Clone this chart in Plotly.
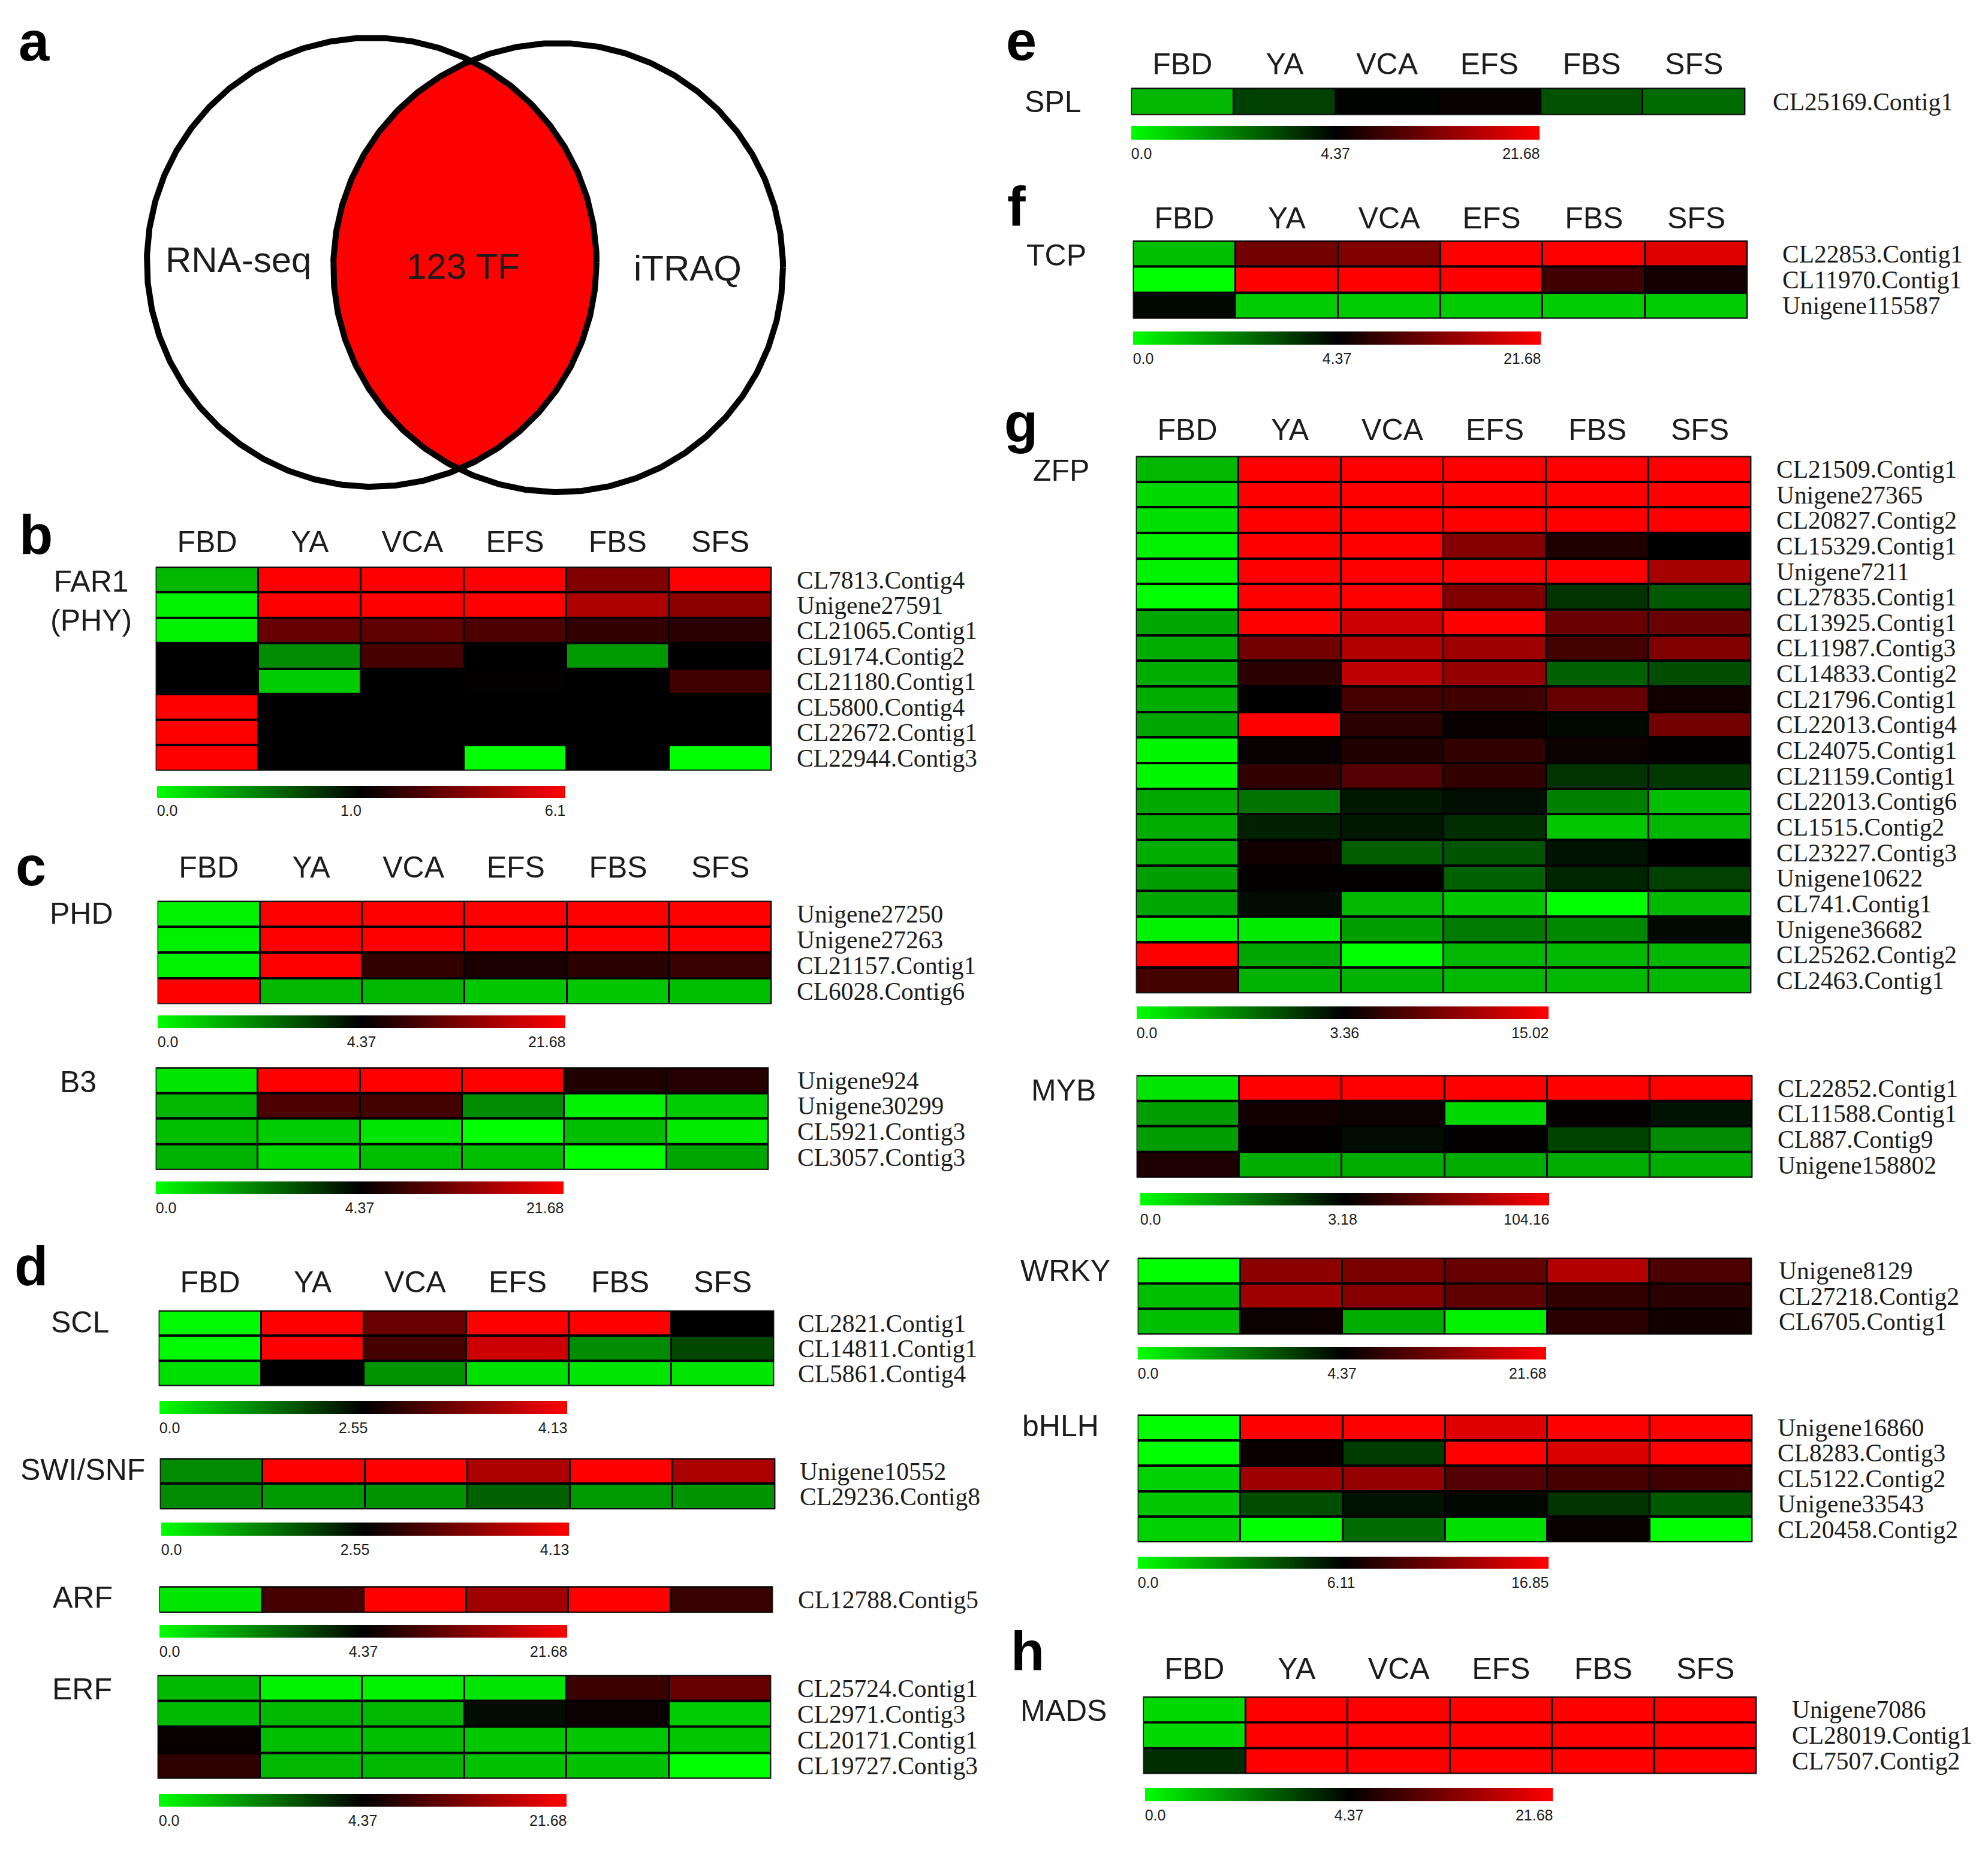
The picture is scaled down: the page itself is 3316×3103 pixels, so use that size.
import numpy as np
import plotly.graph_objects as go

W = 3316
H = 3103

stages = ["FBD", "YA", "VCA", "EFS", "FBS", "SFS"]

# -1 = full green, 0 = black, 1 = full red
far1_genes = ["CL7813.Contig4", "Unigene27591", "CL21065.Contig1", "CL9174.Contig2",
              "CL21180.Contig1", "CL5800.Contig4", "CL22672.Contig1", "CL22944.Contig3"]
far1_values = [[-.72, 1, 1, 1, .5, 1],
               [-.95, 1, 1, 1, .68, .55],
               [-.95, .4, .38, .3, .2, .17],
               [0, -.55, .28, 0, -.6, 0],
               [0, -.8, 0, .01, 0, .25],
               [1, 0, 0, 0, 0, 0],
               [1, 0, 0, 0, 0, 0],
               [1, 0, 0, -1, 0, -1]]

phd_genes = ["Unigene27250", "Unigene27263", "CL21157.Contig1", "CL6028.Contig6"]
phd_values = [[-.95, 1, 1, 1, 1, 1],
              [-.95, 1, 1, 1, 1, 1],
              [-.95, 1, .2, .1, .17, .22],
              [1, -.72, -.72, -.78, -.78, -.75]]

b3_genes = ["Unigene924", "Unigene30299", "CL5921.Contig3", "CL3057.Contig3"]
b3_values = [[-.9, 1, 1, 1, .13, .15],
             [-.72, .3, .27, -.55, -.95, -.8],
             [-.75, -.8, -.9, -1, -.75, -.92],
             [-.7, -.85, -.75, -.75, -1, -.65]]

scl_genes = ["CL2821.Contig1", "CL14811.Contig1", "CL5861.Contig4"]
scl_values = [[-.98, 1, .42, 1, 1, 0],
              [-.98, 1, .28, .8, -.55, -.28],
              [-.88, 0, -.58, -.88, -.9, -.9]]

swi_genes = ["Unigene10552", "CL29236.Contig8"]
swi_values = [[-.55, 1, 1, .68, 1, .67],
              [-.55, -.6, -.58, -.38, -.6, -.58]]

arf_genes = ["CL12788.Contig5"]
arf_values = [[-.9, .28, 1, .63, 1, .22]]

erf_genes = ["CL25724.Contig1", "CL2971.Contig3", "CL20171.Contig1", "CL19727.Contig3"]
erf_values = [[-.73, -.95, -.95, -.9, .23, .4],
              [-.73, -.72, -.72, -.05, .05, -.8],
              [.03, -.75, -.75, -.78, -.78, -.78],
              [.18, -.72, -.72, -.76, -.76, -1]]

spl_genes = ["CL25169.Contig1"]
spl_values = [[-.72, -.25, -.01, .03, -.32, -.42]]

tcp_genes = ["CL22853.Contig1", "CL11970.Contig1", "Unigene115587"]
tcp_values = [[-.75, .45, .5, 1, 1, .88],
              [-1, 1, 1, 1, .25, .08],
              [-.03, -.8, -.8, -.8, -.8, -.8]]

zfp_genes = ["CL21509.Contig1", "Unigene27365", "CL20827.Contig2", "CL15329.Contig1",
             "Unigene7211", "CL27835.Contig1", "CL13925.Contig1", "CL11987.Contig3",
             "CL14833.Contig2", "CL21796.Contig1", "CL22013.Contig4", "CL24075.Contig1",
             "CL21159.Contig1", "CL22013.Contig6", "CL1515.Contig2", "CL23227.Contig3",
             "Unigene10622", "CL741.Contig1", "Unigene36682", "CL25262.Contig2", "CL2463.Contig1"]
zfp_values = [[-.72, 1, 1, 1, 1, 1],
              [-.85, 1, 1, 1, 1, 1],
              [-.88, 1, 1, 1, 1, 1],
              [-.95, 1, 1, .52, .13, 0],
              [-.95, 1, 1, 1, 1, .65],
              [-1, 1, 1, .5, -.2, -.35],
              [-.65, 1, .8, 1, .42, .42],
              [-.68, .45, .7, .62, .27, .5],
              [-.68, .17, .75, .58, -.38, -.3],
              [-.68, 0, .28, .25, .4, .07],
              [-.65, 1, .17, .04, -.03, .45],
              [-.97, .03, .13, .2, .05, .02],
              [-.97, .2, .33, .2, -.2, -.22],
              [-.66, -.45, -.1, -.06, -.5, -.75],
              [-.68, -.13, -.1, -.18, -.78, -.72],
              [-.68, .07, -.37, -.33, -.07, 0],
              [-.62, .02, .01, -.38, -.15, -.25],
              [-.65, -.05, -.72, -.78, -1, -.72],
              [-.95, -.92, -.62, -.48, -.53, -.04],
              [1, -.65, -1, -.72, -.72, -.72],
              [.27, -.7, -.7, -.72, -.72, -.72]]

myb_genes = ["CL22852.Contig1", "CL11588.Contig1", "CL887.Contig9", "Unigene158802"]
myb_values = [[-.9, 1, 1, 1, 1, 1],
              [-.62, .07, .05, -.85, .01, -.07],
              [-.62, .01, -.05, .01, -.26, -.55],
              [.12, -.68, -.68, -.68, -.68, -.68]]

wrky_genes = ["Unigene8129", "CL27218.Contig2", "CL6705.Contig1"]
wrky_values = [[-1, .55, .48, .4, .7, .3],
               [-.75, .62, .52, .38, .2, .17],
               [-.75, .05, -.68, -.95, .17, .07]]

bhlh_genes = ["Unigene16860", "CL8283.Contig3", "CL5122.Contig2", "Unigene33543", "CL20458.Contig2"]
bhlh_values = [[-1, 1, 1, .88, 1, 1],
               [-1, .04, -.23, 1, .85, 1],
               [-.82, .62, .58, .33, .28, .25],
               [-.78, -.3, -.07, -.03, -.2, -.35],
               [-.82, -1, -.42, -.88, .03, -1]]

mads_genes = ["Unigene7086", "CL28019.Contig1", "CL7507.Contig2"]
mads_values = [[-.85, 1, 1, 1, 1, 1],
               [-.85, 1, 1, 1, 1, 1],
               [-.18, 1, 1, 1, 1, 1]]

scale_far1 = ["0.0", "1.0", "6.1"]
scale_main = ["0.0", "4.37", "21.68"]
scale_scl = ["0.0", "2.55", "4.13"]
scale_zfp = ["0.0", "3.36", "15.02"]
scale_myb = ["0.0", "3.18", "104.16"]
scale_bhlh = ["0.0", "6.11", "16.85"]

venn_labels = ["RNA-seq", "123 TF", "iTRAQ"]
panel_letters = ["a", "b", "c", "d", "e", "f", "g", "h"]

# layout, all in picture pixels
# name, genes, values, scale, heat box (x0,x1,y0,y1), colour bar (x0,x1,y0,y1),
# gap to gene labels, gap to stage labels (None = no stage labels), group label centre
panels = [
    ("FAR1<br>(PHY)", far1_genes, far1_values, scale_far1, (260, 1287, 946, 1286), (262, 943, 1312, 1332), 44, 44, (152, 1003)),
    ("PHD", phd_genes, phd_values, scale_main, (263, 1287, 1504, 1676), (263, 943, 1695, 1716), 44, 58, (136, 1525)),
    ("B3", b3_genes, b3_values, scale_main, (260, 1282, 1782, 1953), (260, 940, 1973, 1994), 50, None, (130, 1806)),
    ("SCL", scl_genes, scl_values, scale_scl, (265, 1291, 2188, 2314), (266, 946, 2339, 2361), 42, 49, (133, 2208)),
    ("SWI/SNF", swi_genes, swi_values, scale_scl, (267, 1293, 2435, 2520), (269, 949, 2542, 2564), 43, None, (138, 2454)),
    ("ARF", arf_genes, arf_values, scale_main, (266, 1289, 2649, 2693), (266, 946, 2713, 2734), 44, None, (138, 2667)),
    ("ERF", erf_genes, erf_values, scale_main, (263, 1286, 2797, 2970), (265, 945, 2996, 3017), 46, None, (137, 2821)),
    ("SPL", spl_genes, spl_values, scale_main, (1887, 2911, 146, 191), (1887, 2568, 209, 232), 48, 42, (1756, 169)),
    ("TCP", tcp_genes, tcp_values, scale_main, (1890, 2915, 401, 531), (1890, 2570, 553, 575), 60, 39, (1762, 426)),
    ("ZFP", zfp_genes, zfp_values, scale_zfp, (1895, 2921, 761, 1658), (1896, 2583, 1680, 1701), 44, 46, (1770, 785)),
    ("MYB", myb_genes, myb_values, scale_myb, (1896, 2923, 1795, 1966), (1902, 2584, 1992, 2013), 44, None, (1774, 1820)),
    ("WRKY", wrky_genes, wrky_values, scale_main, (1898, 2922, 2100, 2228), (1898, 2579, 2249, 2270), 47, None, (1777, 2122)),
    ("bHLH", bhlh_genes, bhlh_values, scale_bhlh, (1898, 2923, 2362, 2575), (1898, 2583, 2599, 2619), 44, None, (1769, 2381)),
    ("MADS", mads_genes, mads_values, scale_main, (1907, 2930, 2833, 2962), (1910, 2590, 2986, 3008), 61, 48, (1774, 2857)),
]
letter_pos = [(57, 68), (60, 892), (51, 1446), (52, 2114), (1703, 67), (1695, 343), (1703, 706), (1714, 2757)]
venn_label_pos = [(397, 433), (772, 444), (1147, 447)]
# where the middle label of each colour bar sits along the bar
mid_frac = {"1.0": .475, "4.37": .50, "2.55": .475, "3.36": .505, "3.18": .495, "6.11": .495}

green_black_red = [[0, "#00ff00"], [.5, "#000000"], [1, "#ff0000"]]
sans = "Liberation Sans"
serif = "Liberation Serif"
ink = "#1c1c1c"

fig = go.Figure()
layout = {}
shapes = []
annotations = []


def add_text(text, x, y, family, size, color=ink):
    annotations.append(dict(text=text, xref="paper", yref="paper", showarrow=False,
                            x=x / W, y=1 - y / H, xanchor="center", yanchor="middle",
                            font=dict(family=family, size=size, color=color)))


for i, (name, genes, values, scale, box, bar, gene_gap, stage_gap, name_pos) in enumerate(panels):
    n = i + 1
    x0, x1, y0, y1 = box
    bx0, bx1, by0, by1 = bar
    bar_len = bx1 - bx0
    # end labels sit flush with the ends of the bar
    half_last = (len(scale[2]) - 1) * .556 * 25 / 2 + 3
    bar_fracs = [17 / bar_len, mid_frac[scale[1]], 1 - half_last / bar_len]

    fig.add_trace(go.Heatmap(
        z=values, x=stages, y=genes,
        xaxis="x%d" % n, yaxis="y%d" % n,
        zmin=-1, zmax=1, colorscale=green_black_red,
        xgap=3, ygap=4,
        colorbar=dict(
            orientation="h",
            x=bx0 / W, xanchor="left",
            y=1 - by0 / H, yanchor="top",
            len=bar_len, lenmode="pixels",
            thickness=by1 - by0, thicknessmode="pixels",
            xpad=0, ypad=0, outlinewidth=0,
            tickmode="array",
            tickvals=[-1 + 2 * f for f in bar_fracs],
            ticktext=scale,
            ticks="outside", ticklen=0 if scale is scale_far1 else 2, tickcolor="rgba(0,0,0,0)",
            tickfont=dict(family=sans, size=25, color=ink),
        ),
    ))

    # black backing shows through the cell gaps as the grid
    shapes.append(dict(type="rect", xref="paper", yref="paper", layer="below",
                       x0=x0 / W, x1=x1 / W, y0=1 - y0 / H, y1=1 - y1 / H,
                       fillcolor="black", line=dict(color="#333333", width=1)))

    layout["xaxis%d" % n] = dict(
        domain=[x0 / W, x1 / W], anchor="y%d" % n, type="category", side="top",
        showgrid=False, zeroline=False, ticks="",
        showticklabels=stage_gap is not None,
        ticklabelstandoff=(stage_gap or 30) - 30,
        tickfont=dict(family=sans, size=50, color=ink),
    )
    layout["yaxis%d" % n] = dict(
        domain=[1 - y1 / H, 1 - y0 / H], anchor="x%d" % n, type="category", side="right",
        autorange="reversed", showgrid=False, zeroline=False, ticks="",
        tickmode="array", tickvals=genes, ticktext=genes,
        ticklabelstandoff=gene_gap - 3,
        tickfont=dict(family=serif, size=41.5, color=ink),
    )
    add_text(name, name_pos[0], name_pos[1], sans, 50)

for letter, (lx, ly) in zip(panel_letters, letter_pos):
    add_text("<b>%s</b>" % letter, lx, ly, sans, 92, "black")

for label, (lx, ly) in zip(venn_labels, venn_label_pos):
    add_text(label, lx, ly, sans, 60)

# venn: two circles and the lens between them
left_c = (620, 437)
right_c = (931, 446)
radius = 375
t = np.linspace(0, 2 * np.pi, 721)
circle_lx = left_c[0] + radius * np.cos(t)
circle_ly = left_c[1] + radius * np.sin(t)
circle_rx = right_c[0] + radius * np.cos(t)
circle_ry = right_c[1] + radius * np.sin(t)

tip = np.arctan2(right_c[1] - left_c[1], right_c[0] - left_c[0])
half = np.arccos(np.hypot(right_c[0] - left_c[0], right_c[1] - left_c[1]) / 2 / radius)
a = np.linspace(tip - half, tip + half, 200)
b = np.linspace(tip + np.pi - half, tip + np.pi + half, 200)
lens_x = np.concatenate([left_c[0] + radius * np.cos(a), right_c[0] + radius * np.cos(b)])
lens_y = np.concatenate([left_c[1] + radius * np.sin(a), right_c[1] + radius * np.sin(b)])

fig.add_trace(go.Scatter(x=lens_x, y=lens_y, mode="lines", fill="toself", fillcolor="#ff0000",
                         line=dict(width=0), xaxis="x15", yaxis="y15", hoverinfo="skip"))
fig.add_trace(go.Scatter(x=circle_lx, y=circle_ly, mode="lines", line=dict(color="black", width=10),
                         xaxis="x15", yaxis="y15", hoverinfo="skip"))
fig.add_trace(go.Scatter(x=circle_rx, y=circle_ry, mode="lines", line=dict(color="black", width=10),
                         xaxis="x15", yaxis="y15", hoverinfo="skip"))
layout["xaxis15"] = dict(domain=[200 / W, 1350 / W], range=[200, 1350], visible=False, anchor="y15")
layout["yaxis15"] = dict(domain=[1 - 850 / H, 1 - 40 / H], range=[850, 40], visible=False, anchor="x15")

fig.update_layout(
    width=W, height=H,
    margin=dict(l=0, r=0, t=0, b=0),
    paper_bgcolor="white",
    plot_bgcolor="rgba(0,0,0,0)",
    showlegend=False,
    shapes=shapes,
    annotations=annotations,
    **layout,
)

fig.write_html("out.html", config={"displayModeBar": False},
               post_script="document.body.style.margin='0';")
